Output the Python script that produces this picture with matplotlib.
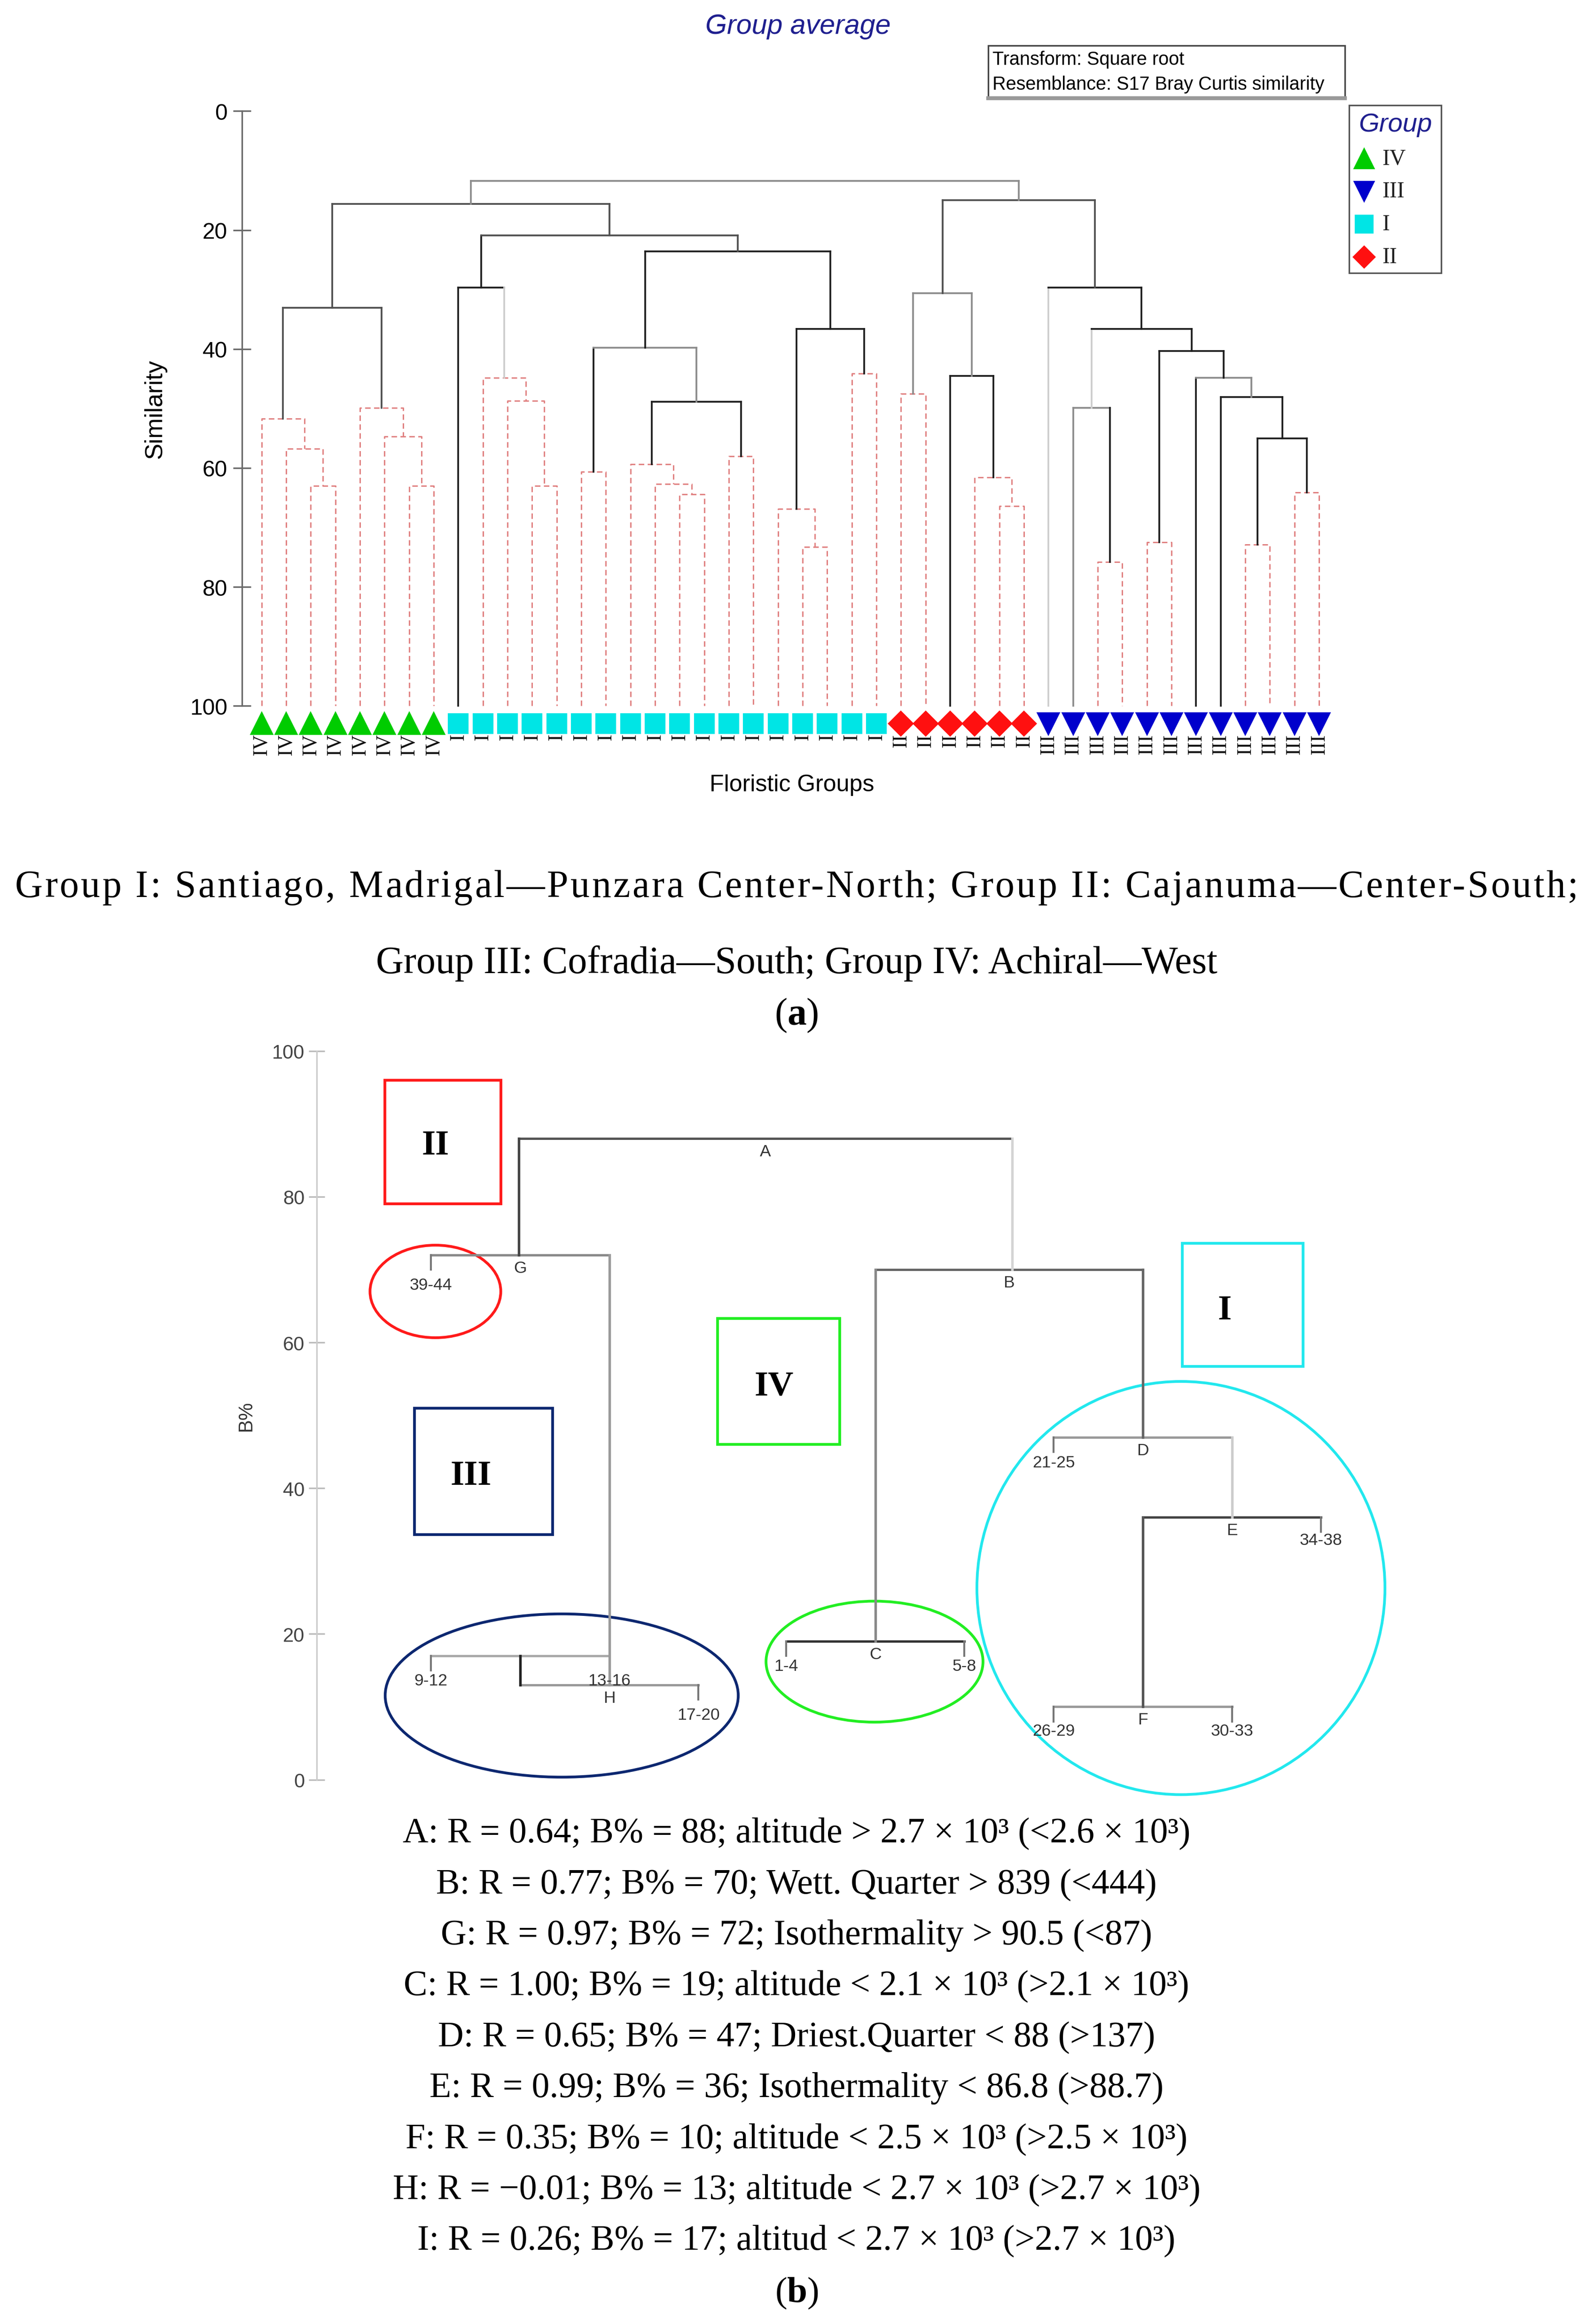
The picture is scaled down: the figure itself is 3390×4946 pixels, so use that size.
import matplotlib.pyplot as plt
from matplotlib.patches import Rectangle, Ellipse
from matplotlib.lines import Line2D

# ---------------- (a) cluster dendrogram (group average) ----------------
leaf_group = ["IV"] * 8 + ["I"] * 18 + ["II"] * 6 + ["III"] * 12

# sites are ids 0..43, merge k gets id 44 + k
merge_left = [2, 1, 0, 6, 5, 4, 46, 11, 10, 9, 8, 13, 17, 16, 15, 19, 58, 55, 22, 21, 24, 63, 61, 54, 50,
              26, 30, 29, 28, 69, 34, 33, 36, 40, 42, 77, 39, 38, 76, 75, 32, 73, 68]
merge_right = [3, 44, 45, 7, 47, 48, 49, 12, 51, 52, 53, 14, 18, 56, 57, 20, 59, 60, 23, 62, 25, 64, 65, 66, 67,
               27, 31, 70, 71, 72, 35, 74, 37, 41, 43, 78, 79, 80, 81, 82, 83, 84, 85]
merge_sim = [63.0, 56.8, 51.7, 63.0, 54.7, 49.9, 33.1, 63.0, 48.7, 44.8, 29.7,
             60.6, 64.4, 62.7, 59.4, 58.0, 48.9, 39.8, 73.3, 66.9, 44.1, 36.6, 23.6, 20.9, 15.6,
             47.5, 66.4, 61.6, 44.5, 30.6,
             75.8, 49.9, 72.5, 72.9, 64.1, 55.0, 48.1, 44.8, 40.3, 36.6, 29.7, 15.0, 11.7]

legend_order = ["IV", "III", "I", "II"]

# ---------------- (b) regression tree ----------------
node_name = ["A", "B", "G", "C", "D", "E", "F", "H", "I"]
node_R = [0.64, 0.77, 0.97, 1.00, 0.65, 0.99, 0.35, -0.01, 0.26]
node_B = [88, 70, 72, 19, 47, 36, 10, 13, 17]
node_rule = ["altitude > 2.7 × 10³ (<2.6 × 10³)",
             "Wett. Quarter > 839 (<444)",
             "Isothermality > 90.5 (<87)",
             "altitude < 2.1 × 10³ (>2.1 × 10³)",
             "Driest.Quarter < 88 (>137)",
             "Isothermality < 86.8 (>88.7)",
             "altitude < 2.5 × 10³ (>2.5 × 10³)",
             "altitude < 2.7 × 10³ (>2.7 × 10³)",
             "altitud < 2.7 × 10³ (>2.7 × 10³)"]
tree_parent = ["A", "A", "G", "I", "B", "B", "D", "E"]
tree_child = ["G", "B", "H", "H", "C", "D", "E", "F"]
leaf_label = ["39-44", "9-12", "13-16", "17-20", "1-4", "5-8", "21-25", "34-38", "26-29", "30-33"]
leaf_parent = ["G", "I", "H", "H", "C", "C", "D", "E", "F", "F"]
box_label = ["II", "III", "IV", "I"]

caption_a1 = "Group I: Santiago, Madrigal\u2014Punzara Center-North; Group II: Cajanuma\u2014Center-South;"
caption_a2 = "Group III: Cofradia\u2014South; Group IV: Achiral\u2014West"

# ---------------- styles / layout ----------------
W, H, DPI = 3390, 4947, 300
RW, RH = 1072.0, 1563.0          # layout measured on a 1072 px wide view


def fx(x):
    return x / RW


def fy(y):
    return 1 - y / RH


SERIF = ["Liberation Serif", "DejaVu Serif"]
plt.rcParams["font.family"] = ["Liberation Sans", "DejaVu Sans"]
plt.rcParams["mathtext.fontset"] = "custom"
plt.rcParams["mathtext.rm"] = "Liberation Serif"
plt.rcParams["mathtext.bf"] = "Liberation Serif:bold"

grp_color = {"IV": "#00cc00", "III": "#0000cc", "I": "#00e5e5", "II": "#ff1010"}
grp_marker = {"IV": "^", "III": "v", "I": "s", "II": "D"}
grp_ms = {"IV": 10.5, "III": 10.5, "I": 9.5, "II": 8.5}

link_style = (["ddd"] * 6 + ["ggg"] + ["ddd"] * 3 + ["kkl"] + ["ddd"] * 5 + ["kkk", "kmm"]
              + ["ddd"] * 3 + ["kkk", "kkk", "kgg", "ggg"] + ["ddd"] * 3 + ["kkk", "mmm"]
              + ["ddd", "mmk"] + ["ddd"] * 3 + ["kkk", "kkk", "kmm", "kkk", "lkk", "lkk", "ggg", "mmm"])
shade = {"k": "#1e1e1e", "g": "#505050", "m": "#8c8c8c", "l": "#cdcdcd"}
DASH_C = "#e08080"

fig = plt.figure(figsize=(W / DPI, H / DPI), dpi=DPI)
renderer = fig.canvas.get_renderer()


def text_width(s, **kw):
    t = fig.text(0, 0, s, **kw)
    w = t.get_window_extent(renderer).width
    t.remove()
    return w


def tracked_line(s, x_left, x_right, y_base, **kw):
    # spread one caption line over a given width with a small letter spacing
    total = text_width(s, **kw)
    track = ((x_right - x_left) / RW * W - total) / (len(s) - 1)
    for i, ch in enumerate(s):
        if ch == " ":
            continue
        off = text_width(s[:i + 1], **kw) - text_width(ch, **kw)
        fig.text((x_left / RW * W + off + i * track) / W, fy(y_base), ch,
                 ha="left", va="baseline", **kw)


# ----- top panel -----
x0px, x1px, y0px, y1px = 163, 900, 63, 523
leaf0, step = 176, 16.55
ax = fig.add_axes([fx(x0px), fy(y1px), fx(x1px - x0px), (y1px - y0px) / RH])
ax.set_xlim((x0px - leaf0) / step, (x1px - leaf0) / step)
ax.set_ylim(112, -3)

n = len(leaf_group)
pos = {i: float(i) for i in range(n)}
hgt = {i: 100.0 for i in range(n)}
for k, (a, b, s) in enumerate(zip(merge_left, merge_right, merge_sim)):
    xa, xb = pos[a], pos[b]
    st = link_style[k]
    if st == "ddd":
        ax.plot([xa, xa, xb, xb], [hgt[a], s, s, hgt[b]], color=DASH_C, lw=0.7,
                ls=(0, (4, 2.5)))
    else:
        ax.plot([xa, xa], [hgt[a], s], color=shade[st[0]], lw=0.9)
        ax.plot([xa, xb], [s, s], color=shade[st[1]], lw=0.9)
        ax.plot([xb, xb], [hgt[b], s], color=shade[st[2]], lw=0.9)
    pos[n + k] = (xa + xb) / 2
    hgt[n + k] = s

for g in legend_order:
    xs = [i for i in range(n) if leaf_group[i] == g]
    ax.plot(xs, [103] * len(xs), ls="none", marker=grp_marker[g], ms=grp_ms[g],
            color=grp_color[g], mec=grp_color[g], clip_on=False)
    for i in xs:
        ax.text(i, 104.6, g, rotation=90, ha="center", va="top", fontsize=10.5,
                family=SERIF, color="#111111")

for sp in ["top", "right", "bottom"]:
    ax.spines[sp].set_visible(False)
ax.spines["left"].set_bounds(0, 100)
ax.spines["left"].set_color("#6a6a6a")
ax.set_xticks([])
ax.set_yticks([0, 20, 40, 60, 80, 100])
ax.tick_params(axis="y", direction="inout", length=9, width=0.8, color="#6a6a6a",
               labelsize=11.5, pad=3)
ax.set_ylabel("Similarity", fontsize=12.5)
ax.yaxis.set_label_coords((112 - x0px) / (x1px - x0px), (y1px - 275) / (y1px - y0px))
ax.patch.set_alpha(0)

fig.text(fx(533), fy(528), "Floristic Groups", fontsize=12, ha="center", va="center")
fig.text(fx(537), fy(18), "Group average", color="#1f1f8f", style="italic",
         fontsize=14.2, ha="center", va="center")

# transform / resemblance box
fig.add_artist(Rectangle((fx(665), fy(66)), fx(240), 35 / RH, transform=fig.transFigure,
                         fill=False, ec="#444444", lw=0.8))
fig.add_artist(Line2D([fx(665), fx(905)], [fy(66.5), fy(66.5)], transform=fig.transFigure,
                      color="#999999", lw=2))
fig.text(fx(668), fy(40), "Transform: Square root", fontsize=9.5, va="center")
fig.text(fx(668), fy(57), "Resemblance: S17 Bray Curtis similarity", fontsize=9.5, va="center")

# legend box
fig.add_artist(Rectangle((fx(908), fy(184)), fx(62), 113 / RH, transform=fig.transFigure,
                         fill=False, ec="#555555", lw=0.8))
fig.text(fx(939), fy(84), "Group", color="#1f1f8f", style="italic", fontsize=13.5,
         ha="center", va="center")
for j, g in enumerate(legend_order):
    yy = 107 + j * 22
    fig.add_artist(Line2D([fx(918)], [fy(yy)], transform=fig.transFigure, ls="none",
                          marker=grp_marker[g], ms=grp_ms[g] - 1, color=grp_color[g]))
    fig.text(fx(930), fy(yy), g, family=SERIF, fontsize=11.5, va="center", color="#222222")

# captions (a)
tracked_line(caption_a1, 10, 1062, 603, family=SERIF, fontsize=19.6)
fig.text(fx(536), fy(648), caption_a2, family=SERIF, fontsize=19.6, ha="center", va="center")
fig.text(fx(536), fy(683), r"($\mathbf{a}$)", family=SERIF, fontsize=19.6, ha="center", va="center")

# ----- bottom panel -----
bx0, bx1 = 213, 960
bpx = lambda b: 1197 - 4.9 * b
bx = fig.add_axes([fx(bx0), fy(bpx(-4)), fx(bx1 - bx0), (bpx(-4) - bpx(104)) / RH])
bx.set_xlim(bx0, bx1)
bx.set_ylim(-4, 104)

node_span = {"A": (349, 681), "B": (589, 769), "G": (290, 410), "C": (529, 649),
             "D": (709, 829), "E": (769, 889), "F": (709, 829), "H": (350, 470), "I": (290, 410)}
node_col = {"A": "#555555", "B": "#666666", "G": "#8a8a8a", "C": "#333333", "D": "#9a9a9a",
            "E": "#444444", "F": "#9a9a9a", "H": "#9a9a9a", "I": "#aaaaaa"}
edge_x = [349, 681, 410, 350, 589, 769, 829, 769]
edge_col = ["#444444", "#d4d4d4", "#9a9a9a", "#222222", "#888888", "#666666", "#cccccc", "#555555"]
Bof = dict(zip(node_name, node_B))

for nm in node_name:
    a, b = node_span[nm]
    bx.plot([a, b], [Bof[nm], Bof[nm]], color=node_col[nm], lw=1.2)
    if nm != "I":
        bx.text((a + b) / 2, Bof[nm] - 0.7, nm, fontsize=8.5, ha="center", va="top", color="#333333")
for p, c, xe, ce in zip(tree_parent, tree_child, edge_x, edge_col):
    bx.plot([xe, xe], [Bof[p], Bof[c]], color=ce, lw=1.3)

leaf_x = [290, 290, 410, 470, 529, 649, 709, 889, 709, 829]
leaf_dy = [-4.1, -3.4, 0.6, -4.1, -3.4, -3.4, -3.5, -3.1, -3.3, -3.3]
for lab, par, xl, dy in zip(leaf_label, leaf_parent, leaf_x, leaf_dy):
    if dy < 0:
        bx.plot([xl, xl], [Bof[par], Bof[par] - 2.0], color="#777777", lw=1.0)
    bx.text(xl, Bof[par] + dy, lab, fontsize=8.5, ha="center", va="center", color="#333333")

box_rect = [(259, 337, 79.0, 96.0), (279, 372, 33.6, 51.0), (483, 565, 46.0, 63.3), (795.5, 877, 56.7, 73.6)]
box_text = [(293, 87.0), (317, 41.7), (521, 54.0), (824, 64.4)]
box_col = ["#ff1a1a", "#0c2770", "#22ee22", "#22e8ee"]
for lab, (a, b, lo, hi), (tx, ty), c in zip(box_label, box_rect, box_text, box_col):
    bx.add_patch(Rectangle((a, lo), b - a, hi - lo, fill=False, ec=c, lw=1.4))
    bx.text(tx, ty, lab, family=SERIF, fontweight="bold", fontsize=18, ha="center", va="center")

ell = [(293, 67.0, 88, 12.7), (378, 11.55, 237.6, 22.4), (588.5, 16.2, 146, 16.6), (794.7, 26.3, 274.6, 56.7)]
for (cx, cy, w, h), c in zip(ell, box_col):
    bx.add_patch(Ellipse((cx, cy), w, h, fill=False, ec=c, lw=1.4))

for sp in ["top", "right", "bottom"]:
    bx.spines[sp].set_visible(False)
bx.spines["left"].set_bounds(0, 100)
bx.spines["left"].set_color("#cccccc")
bx.set_xticks([])
bx.set_yticks([0, 20, 40, 60, 80, 100])
bx.tick_params(axis="y", direction="inout", length=8, width=0.8, color="#bbbbbb",
               labelsize=10, labelcolor="#444444", pad=2)
bx.set_ylabel("B%", fontsize=10, color="#333333")
bx.yaxis.set_label_coords((172 - bx0) / (bx1 - bx0), (50 + 4) / 108)
bx.patch.set_alpha(0)

# captions (b)
for i, (nm, r, b, rule) in enumerate(zip(node_name, node_R, node_B, node_rule)):
    r_txt = f"{r:.2f}".replace("-", "\u2212")
    fig.text(fx(536), fy(1233 + i * 34.25), f"{nm}: R = {r_txt}; B% = {b}; {rule}",
             family=SERIF, fontsize=18.2, ha="center", va="center")
fig.text(fx(536), fy(1542), r"($\mathbf{b}$)", family=SERIF, fontsize=18.5, ha="center", va="center")

fig.savefig("out.png", dpi=DPI, facecolor="white")
